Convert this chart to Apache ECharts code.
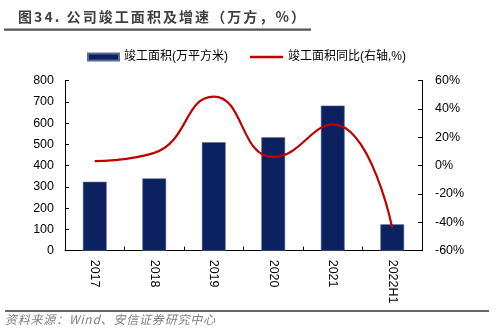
<!DOCTYPE html>
<html>
<head>
<meta charset="utf-8">
<script src="https://cdn.jsdelivr.net/npm/echarts@6/dist/echarts.min.js"></script>
<style>
  html, body { margin: 0; padding: 0; background: #fff; }
  #chart { width: 497px; height: 335px; }
</style>
</head>
<body>
<div id="chart"></div>
<script>
// Completed floor area (10k m²) and its year-on-year growth (%)
const categories = ['2017', '2018', '2019', '2020', '2021', '2022H1'];
const completedArea = [324, 340, 510, 533, 682, 124];
const completedYoY = [3.2, 9, 48.6, 6, 29, -44];
const leftTicks = { min: 0, max: 800, interval: 100 };
const rightTicks = { min: -60, max: 60, interval: 20 };

const barName = '竣工面积(万平方米)';
const lineName = '竣工面积同比(右轴,%)';
const titleText = '图34. 公司竣工面积及增速（万方，%）';
const sourceText = '资料来源：Wind、安信证券研究中心';

const FONT = '"Liberation Sans", Arial, "Noto Sans CJK SC", sans-serif';
const CJK = '"Noto Sans CJK SC", sans-serif';

// Lay a string out character by character, spread evenly over a given width
function spacedText(str, x0, yMid, totalWidth, font, fill) {
  const ctx = document.createElement('canvas').getContext('2d');
  ctx.font = font;
  const chars = Array.from(str);
  const widths = chars.map(c => ctx.measureText(c).width);
  const sum = widths.reduce((a, b) => a + b, 0);
  const gap = (totalWidth - sum) / (chars.length - 1);
  const out = [];
  let x = x0;
  chars.forEach((c, i) => {
    out.push({
      type: 'text', x: x, y: yMid, silent: true,
      style: { text: c, font: font, fill: fill, verticalAlign: 'middle', align: 'left' }
    });
    x += widths[i] + gap;
  });
  return out;
}

const chart = echarts.init(document.getElementById('chart'), null, { renderer: 'canvas' });

const axisCommon = {
  axisLine: { show: true, lineStyle: { color: '#000', width: 1 } },
  axisTick: { show: true, inside: true, length: 4, lineStyle: { color: '#000' } },
  splitLine: { show: false },
  axisLabel: { color: '#000', fontSize: 12.5, fontFamily: FONT }
};

const legendText = { color: '#000', fontSize: 12, fontFamily: FONT };

chart.setOption({
  backgroundColor: '#fff',
  animation: false,
  graphic: [].concat(
    spacedText(titleText, 18, 16.5, 287, 'bold 14px ' + CJK, '#404040'),
    [
      { type: 'rect', shape: { x: 4, y: 28.5, width: 307, height: 2.2 }, style: { fill: '#555' } },
      { type: 'rect', shape: { x: 5, y: 310, width: 484, height: 2 }, style: { fill: '#666' } }
    ],
    spacedText(sourceText, 5, 319.5, 210, 'italic 12px ' + CJK, '#808080')
  ),
  legend: [
    {
      top: 51, left: 87, padding: 0,
      itemWidth: 31, itemHeight: 7,
      textStyle: legendText,
      data: [{ name: barName, icon: 'rect' }]
    },
    {
      top: 51, left: 250, padding: 0,
      itemWidth: 33, itemHeight: 2.5,
      textStyle: legendText,
      data: [{ name: lineName, icon: 'rect' }]
    }
  ],
  grid: {
    left: 65, right: 75, top: 80.5, bottom: 84.3,
    outerBoundsMode: 'none'
  },
  xAxis: {
    type: 'category',
    data: categories,
    boundaryGap: true,
    axisLine: { show: true, lineStyle: { color: '#000', width: 1 } },
    axisTick: { show: true, inside: true, length: 4, alignWithLabel: false, lineStyle: { color: '#000' } },
    axisLabel: { color: '#000', fontSize: 12.5, fontFamily: FONT, rotate: -90, margin: 9, interval: 0 }
  },
  yAxis: [
    Object.assign({
      type: 'value',
      min: leftTicks.min, max: leftTicks.max, interval: leftTicks.interval,
      position: 'left'
    }, axisCommon, { axisLabel: Object.assign({}, axisCommon.axisLabel, { margin: 11 }) }),
    Object.assign({
      type: 'value',
      min: rightTicks.min, max: rightTicks.max, interval: rightTicks.interval,
      position: 'right'
    }, axisCommon, { axisLabel: Object.assign({}, axisCommon.axisLabel, { margin: 13, formatter: '{value}%' }) })
  ],
  series: [
    {
      name: barName,
      type: 'bar',
      yAxisIndex: 0,
      data: completedArea,
      barWidth: '40%',
      itemStyle: { color: '#0b2160', borderColor: '#5a6b92', borderWidth: 0.6 }
    },
    {
      name: lineName,
      type: 'line',
      yAxisIndex: 1,
      data: completedYoY,
      smooth: 0.5,
      symbol: 'none',
      lineStyle: { color: '#c00000', width: 2.2 },
      itemStyle: { color: '#c00000' }
    }
  ]
});
</script>
</body>
</html>
